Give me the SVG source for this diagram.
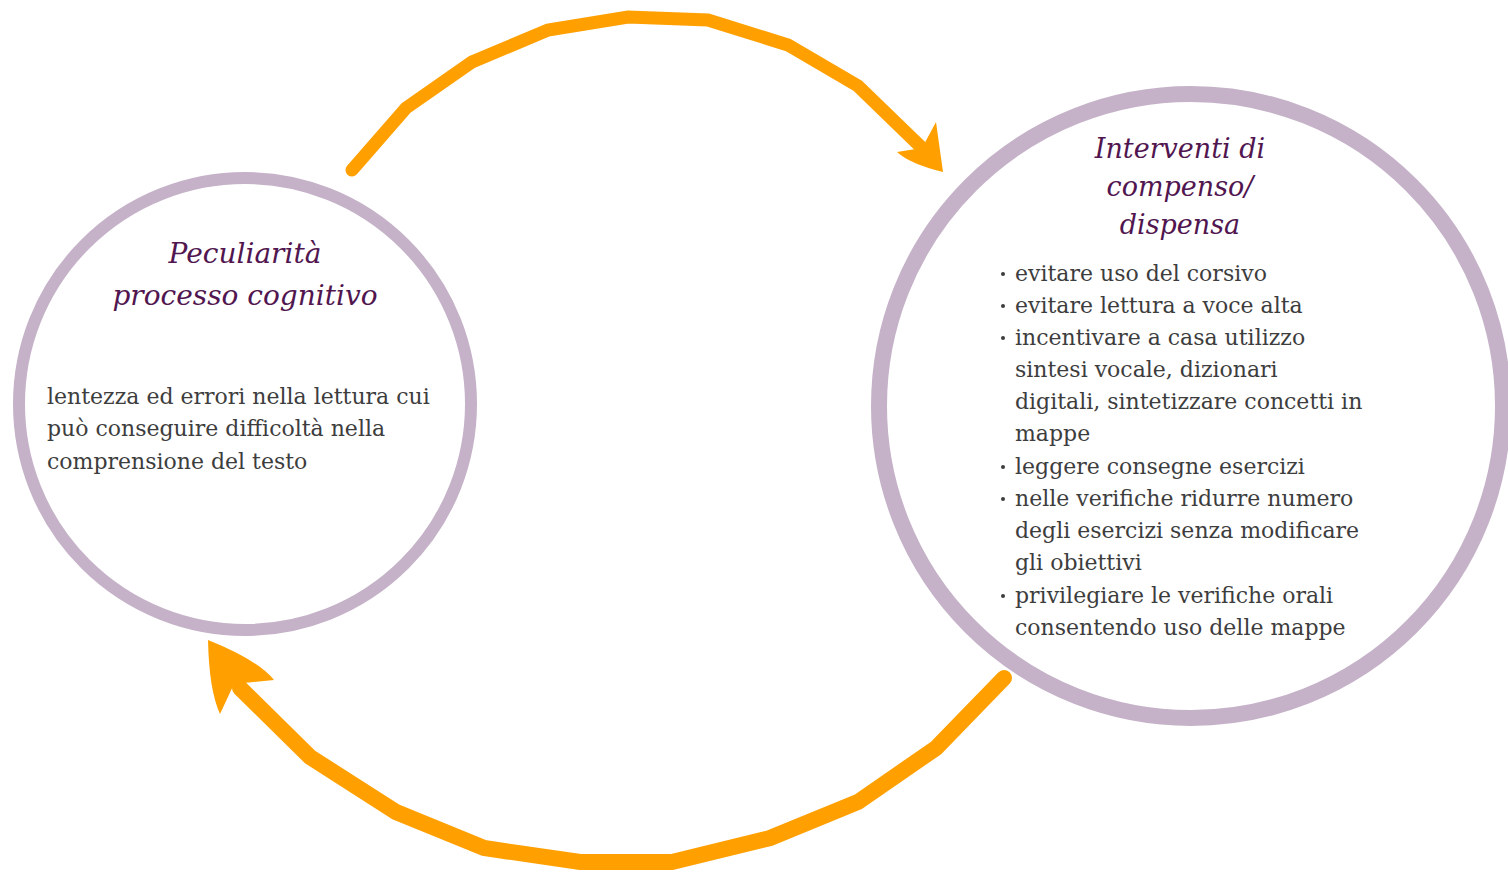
<svg xmlns="http://www.w3.org/2000/svg" width="1508" height="875" viewBox="0 0 1508 875">
<style>
.ring{fill:#ffffff;stroke:#c5b2c8}
.title{font-family:"DejaVu Serif","Liberation Serif",serif;font-style:italic;fill:#51164f;font-size:28px;text-anchor:middle}
.body{font-family:"DejaVu Serif","Liberation Serif",serif;fill:#3d3d3d;font-size:22px}
.dot{fill:#3d3d3d}
.conn{fill:none;stroke:#ffa000;stroke-linejoin:miter;stroke-linecap:round}
.head{fill:#ffa000}
</style>
<rect width="1508" height="875" fill="#ffffff"/>
<g id="node-peculiarita">
<circle class="ring" cx="245" cy="404" r="226" stroke-width="12"/>
<text class="title" x="245" y="263">Peculiarità</text>
<text class="title" x="245" y="305">processo cognitivo</text>
<text class="body" x="47" y="404">lentezza ed errori nella lettura cui</text>
<text class="body" x="47" y="436">può conseguire difficoltà nella</text>
<text class="body" x="47" y="469">comprensione del testo</text>
</g>
<g id="node-interventi">
<circle class="ring" cx="1191" cy="406" r="312" stroke-width="16"/>
<text class="title" x="1180" y="158" style="font-size:27px">Interventi di</text>
<text class="title" x="1180" y="196" style="font-size:27px">compenso/</text>
<text class="title" x="1180" y="234" style="font-size:27px">dispensa</text>
<g class="dot">
<circle cx="1003" cy="274" r="2"/>
<circle cx="1003" cy="306" r="2"/>
<circle cx="1003" cy="338" r="2"/>
<circle cx="1003" cy="467" r="2"/>
<circle cx="1003" cy="499" r="2"/>
<circle cx="1003" cy="596" r="2"/>
</g>
<g class="body">
<text x="1015" y="281">evitare uso del corsivo</text>
<text x="1015" y="313">evitare lettura a voce alta</text>
<text x="1015" y="345">incentivare a casa utilizzo</text>
<text x="1015" y="377">sintesi vocale, dizionari</text>
<text x="1015" y="409">digitali, sintetizzare concetti in</text>
<text x="1015" y="441">mappe</text>
<text x="1015" y="474">leggere consegne esercizi</text>
<text x="1015" y="506">nelle verifiche ridurre numero</text>
<text x="1015" y="538">degli esercizi senza modificare</text>
<text x="1015" y="570">gli obiettivi</text>
<text x="1015" y="603">privilegiare le verifiche orali</text>
<text x="1015" y="635">consentendo uso delle mappe</text>
</g>
</g>
<g id="connectors">
<polyline class="conn" stroke-width="13" points="352,170 406,108 472,62 548,30 628,17 708,20 788,45 858,86 922,148"/>
<path class="head" d="M943,172 L936,122 L922,148 L897,152 Q910,164 943,172 Z"/>
<polyline class="conn" stroke-width="16" points="1004,678 936,748 858,802 770,838 672,862 580,862 484,848 396,812 310,757 240,688"/>
<path class="head" d="M208,640 Q209,690 220,714 L234,684 L274,680 Q258,660 208,640 Z"/>
</g>
</svg>
